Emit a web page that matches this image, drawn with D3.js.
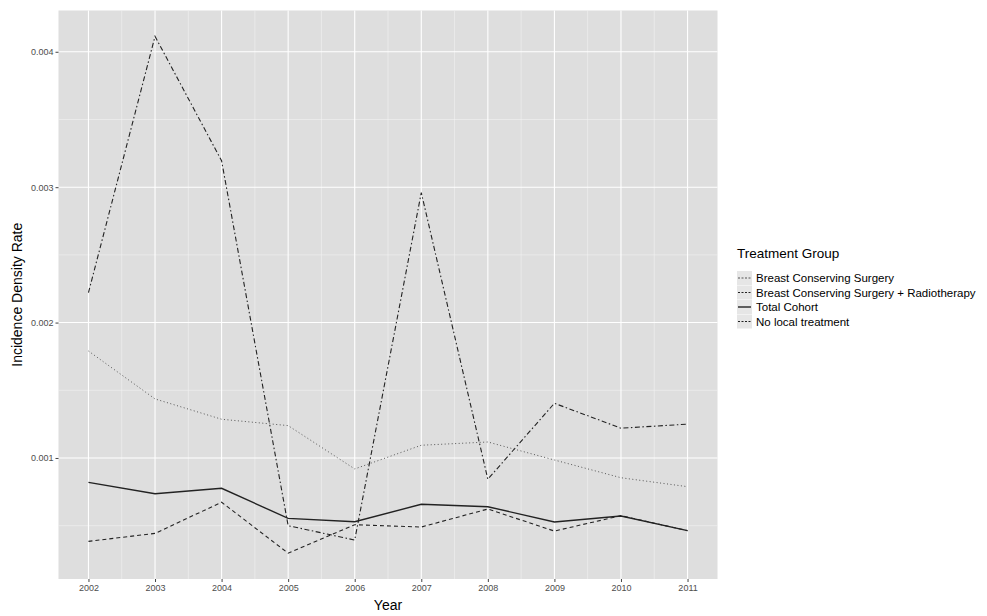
<!DOCTYPE html>
<html><head><meta charset="utf-8">
<script src="https://cdn.jsdelivr.net/npm/d3@7"></script>
<style>body{margin:0;background:#fff;font-family:"Liberation Sans",Arial,sans-serif;}</style>
</head><body><svg id="c" width="987" height="616"></svg>
<script>
const years = [2002,2003,2004,2005,2006,2007,2008,2009,2010,2011];
const bcs      = [0.00179,0.001436,0.001286,0.001239,0.000919,0.001094,0.001118,0.000985,0.000854,0.000788];
const bcsRt    = [0.000384,0.000443,0.000673,0.000297,0.000507,0.00049,0.000623,0.00046,0.000574,0.000463];
const total    = [0.00082,0.000736,0.000776,0.000554,0.000529,0.000658,0.00064,0.000527,0.000571,0.000463];
const noLocal  = [0.002221,0.004114,0.003195,0.0005,0.000394,0.00296,0.000843,0.001404,0.00122,0.00125];
const seriesNames = ["Breast Conserving Surgery","Breast Conserving Surgery + Radiotherapy","Total Cohort","No local treatment"];
const seriesValues = [bcs,bcsRt,total,noLocal];
const dashes = ["1,2.5","4,3","none","5,2.5,1.5,2.5"];
const widths = [1,1.1,1.4,1.1];
const strokes = ["#555","#222","#222","#222"];
const yTicks = [0.001,0.002,0.003,0.004];

const svg = d3.select("#c");
const L=58.5, R=717.5, T=10.5, B=579;
const allV = seriesValues.flat();
const vmin = d3.min(allV), vmax = d3.max(allV), vr = vmax-vmin;
const x = d3.scaleLinear().domain([2002-0.45,2011+0.45]).range([L,R]);
const y = d3.scaleLinear().domain([vmin-0.05*vr, vmax+0.05*vr]).range([B,T]);

svg.append("rect").attr("x",L).attr("y",T).attr("width",R-L).attr("height",B-T).attr("fill","#dedede");
// minor grid
const minorX = years.slice(0,-1).map(v=>v+0.5);
const minorY = [0.0005,0.0015,0.0025,0.0035];
svg.append("g").selectAll("line").data(minorX).join("line")
 .attr("x1",d=>x(d)).attr("x2",d=>x(d)).attr("y1",T).attr("y2",B).attr("stroke","#f2f2f2").attr("stroke-width",0.6);
svg.append("g").selectAll("line").data(minorY).join("line")
 .attr("y1",d=>y(d)).attr("y2",d=>y(d)).attr("x1",L).attr("x2",R).attr("stroke","#f2f2f2").attr("stroke-width",0.6);
svg.append("g").selectAll("line").data(years).join("line")
 .attr("x1",d=>x(d)).attr("x2",d=>x(d)).attr("y1",T).attr("y2",B).attr("stroke","#fff").attr("stroke-width",1.1);
svg.append("g").selectAll("line").data(yTicks).join("line")
 .attr("y1",d=>y(d)).attr("y2",d=>y(d)).attr("x1",L).attr("x2",R).attr("stroke","#fff").attr("stroke-width",1.1);

// axes
const xAxis = svg.append("g").attr("transform",`translate(0,${B})`)
 .call(d3.axisBottom(x).tickValues(years).tickFormat(d3.format("d")).tickSize(3).tickPadding(3));
const yAxis = svg.append("g").attr("transform",`translate(${L},0)`)
 .call(d3.axisLeft(y).tickValues(yTicks).tickFormat(d3.format(".3f")).tickSize(3).tickPadding(2));
[xAxis,yAxis].forEach(a=>{
  a.select(".domain").remove();
  a.selectAll(".tick line").attr("stroke","#444");
  a.selectAll(".tick text").attr("fill","#4d4d4d").style("font-size","9px").style("font-family","Liberation Sans, Arial, sans-serif");
});

// lines
const line = d3.line().x((d,i)=>x(years[i])).y(d=>y(d));
seriesValues.forEach((vals,k)=>{
  svg.append("path").datum(vals).attr("d",line).attr("fill","none")
   .attr("stroke",strokes[k]).attr("stroke-width",widths[k])
   .attr("stroke-dasharray",dashes[k]);
});

// axis titles
svg.append("text").attr("x",(L+R)/2).attr("y",610).attr("text-anchor","middle")
 .style("font-size","14px").attr("fill","#000").text("Year");
svg.append("text").attr("transform",`translate(22,${(T+B)/2}) rotate(-90)`).attr("text-anchor","middle")
 .style("font-size","14px").attr("fill","#000").text("Incidence Density Rate");

// legend
const lg = svg.append("g").attr("transform","translate(737,0)");
lg.append("text").attr("x",0).attr("y",258).style("font-size","13.5px").attr("fill","#000").text("Treatment Group");
seriesNames.forEach((n,k)=>{
  const cy = 278 + k*14.5;
  lg.append("rect").attr("x",0).attr("y",cy-7).attr("width",15).attr("height",14).attr("fill","#e6e6e6");
  lg.append("line").attr("x1",1).attr("x2",14).attr("y1",cy).attr("y2",cy)
   .attr("stroke",strokes[k]).attr("stroke-width",widths[k]).attr("stroke-dasharray",dashes[k]==="none"?null:"2,1.5");
  lg.append("text").attr("x",19).attr("y",cy+4).style("font-size","11.5px").attr("fill","#000").text(n);
});
</script></body></html>
